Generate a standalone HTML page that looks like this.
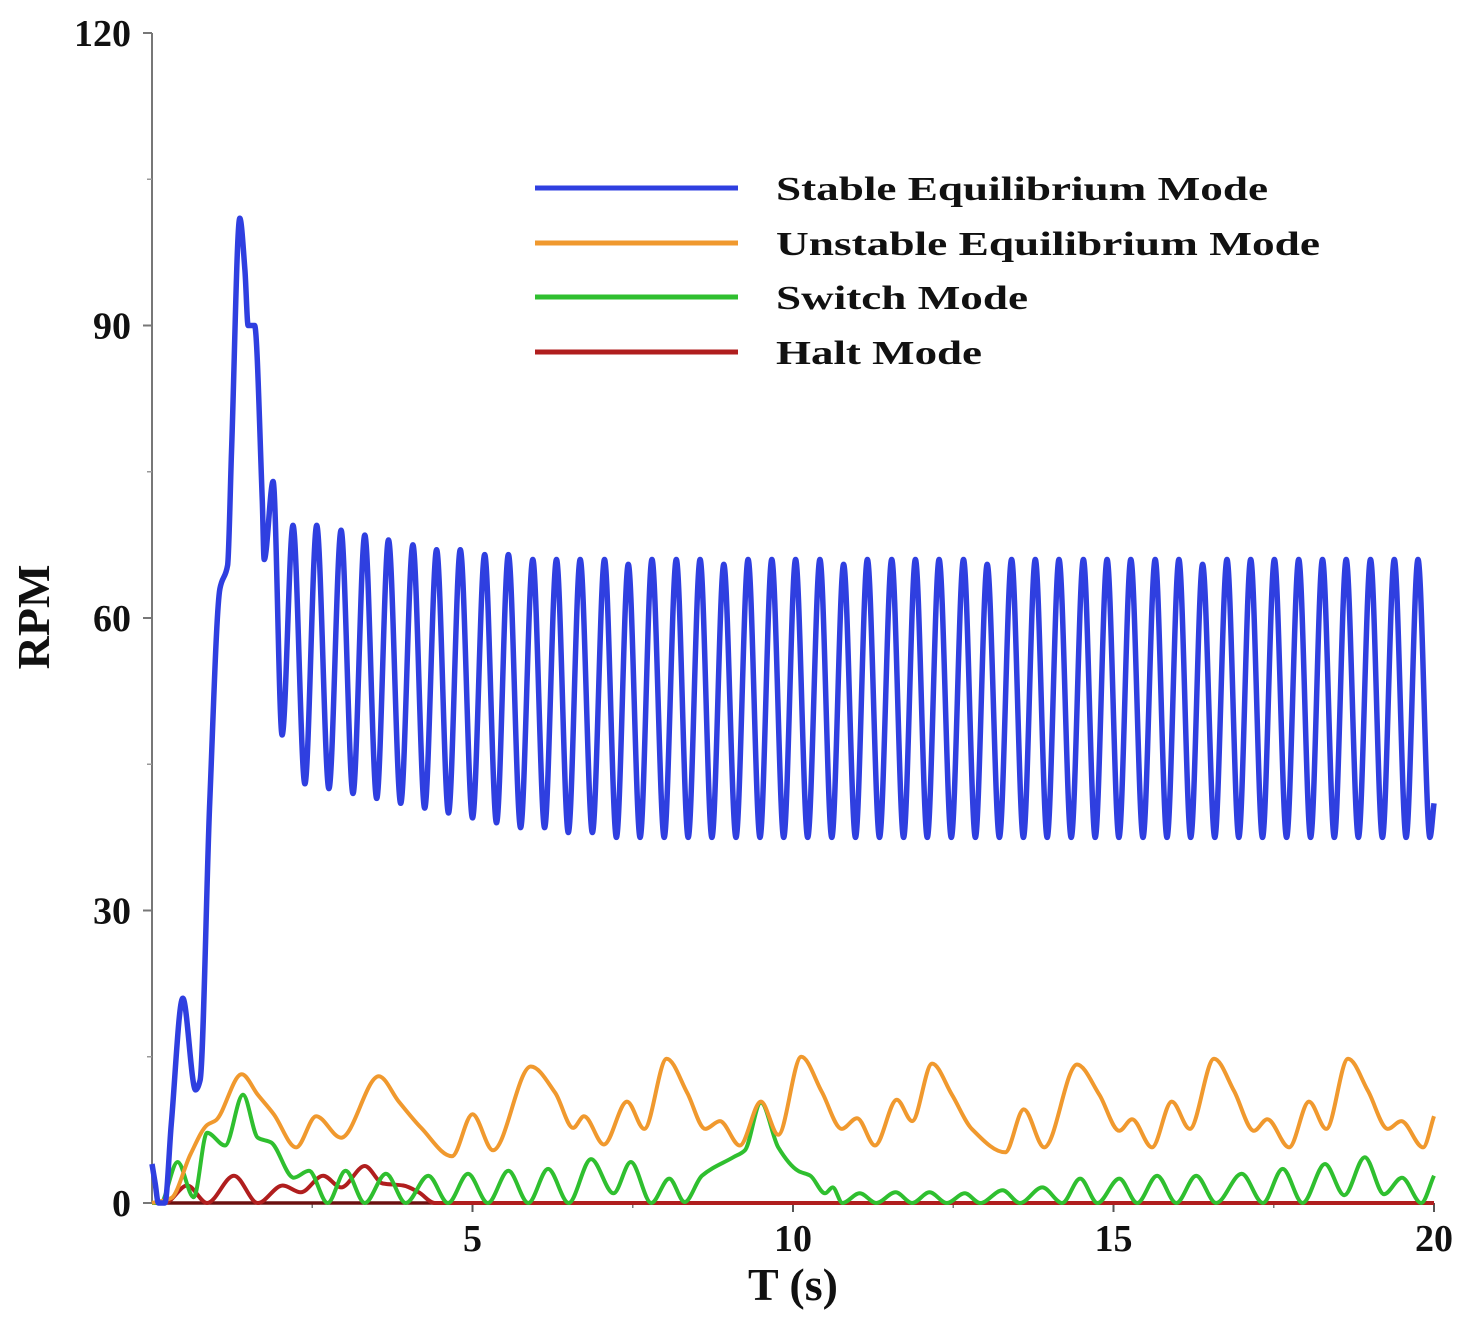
<!DOCTYPE html>
<html>
<head>
<meta charset="utf-8">
<style>
html,body{margin:0;padding:0;background:#fff;}
svg{display:block;}
text{font-family:"Liberation Serif",serif;font-weight:bold;fill:#111;}
</style>
</head>
<body>
<svg id="chart" width="1473" height="1323" viewBox="0 0 1473 1323" xmlns="http://www.w3.org/2000/svg">
  <g id="axes"></g>
  <g id="series"></g>
  <g id="legend"></g>
</svg>
<script>
// ---- data ----
const xTicks = [5, 10, 15, 20];
const xTickLabels = ["5", "10", "15", "20"];
const yTicks = [0, 30, 60, 90, 120];
const yTickLabels = ["0", "30", "60", "90", "120"];
const yMinorTicks = [15, 45, 75, 105];
const xMinorTicks = [2.5, 7.5, 12.5, 17.5];

const seriesNames = ["Stable Equilibrium Mode", "Unstable Equilibrium Mode", "Switch Mode", "Halt Mode"];

const stableStartT = [0, 0.05, 0.1, 0.2, 0.3, 0.48, 0.68, 0.75, 0.9, 1.06, 1.18, 1.24, 1.37, 1.45, 1.5, 1.6, 1.72, 1.75, 1.89, 2.03];
const stableStartV = [4, 2, 0, 0, 8, 21, 11.6, 12.6, 41, 63, 65.4, 77, 101, 95.7, 90, 90, 72, 66, 74, 48];
const stablePeakT = [2.20,2.57,2.95,3.32,3.69,4.07,4.44,4.81,5.19,5.56,5.94,6.31,6.68,7.06,7.43,7.80,8.18,8.55,8.92,9.30,9.67,10.04,10.42,10.79,11.16,11.54,11.91,12.28,12.66,13.03,13.41,13.78,14.15,14.53,14.90,15.27,15.65,16.02,16.39,16.77,17.14,17.51,17.89,18.26,18.63,19.01,19.38,19.75];
const stablePeakV = [69.5,69.5,69,68.5,68,67.5,67,67,66.5,66.5,66,66,66,66,65.5,66,66,66,65.5,66,66,66,66,65.5,66,66,66,66,66,65.5,66,66,66,66,66,66,66,66,65.5,66,66,66,66,66,66,66,66,66];
const stableTroughV = [43,42.5,42,41.5,41,40.5,40,39.5,39,38.5,38.5,38,38,37.5,37.5,37.5,37.5,37.5,37.5,37.5,37.5,37.5,37.5,37.5,37.5,37.5,37.5,37.5,37.5,37.5,37.5,37.5,37.5,37.5,37.5,37.5,37.5,37.5,37.5,37.5,37.5,37.5,37.5,37.5,37.5,37.5,37.5,37.5];
const stableEndT = [20];
const stableEndV = [41];

const unstableT = [0,0.3,0.6,0.86,1.0,1.4,1.65,1.9,2.25,2.56,2.95,3.54,3.85,4.2,4.68,5.0,5.32,5.91,6.29,6.57,6.74,7.05,7.41,7.68,8.03,8.35,8.63,8.86,9.17,9.5,9.77,10.13,10.45,10.76,11.0,11.28,11.62,11.86,12.17,12.48,12.79,13.31,13.6,13.92,14.43,14.78,15.09,15.29,15.6,15.91,16.19,16.57,16.88,17.19,17.4,17.74,18.05,18.32,18.66,18.97,19.28,19.49,19.83,20];
const unstableV = [0,0.5,5,8,8.5,13.2,11.1,9.1,5.7,8.9,6.7,13,10.4,7.7,4.8,9.1,5.4,14,11.3,7.7,8.9,6,10.4,7.6,14.8,11.3,7.6,8.4,5.9,10.4,7,15,11.4,7.6,8.7,5.9,10.6,8.4,14.3,11.1,7.6,5.2,9.6,5.7,14.2,11.1,7.4,8.6,5.7,10.4,7.6,14.8,11.5,7.4,8.6,5.7,10.4,7.6,14.8,11.5,7.6,8.4,5.7,8.9];

const switchT = [0,0.13,0.4,0.65,0.86,1.14,1.42,1.65,1.86,2.21,2.45,2.74,3.02,3.32,3.65,3.96,4.31,4.62,4.93,5.24,5.56,5.87,6.18,6.5,6.85,7.2,7.47,7.79,8.07,8.31,8.58,9.07,9.25,9.5,9.77,10.08,10.27,10.5,10.62,10.77,11.04,11.3,11.6,11.86,12.13,12.4,12.68,12.92,13.27,13.54,13.89,14.2,14.48,14.75,15.09,15.37,15.68,15.98,16.29,16.6,17.0,17.33,17.64,17.95,18.3,18.6,18.92,19.22,19.5,19.8,20];
const switchV = [0,0,4.2,0.6,7.2,5.9,11.1,6.7,6.2,2.6,3.3,0,3.3,0,3,0,2.8,0,3,0,3.3,0,3.5,0,4.5,1,4.2,0,2.5,0.1,2.8,4.7,5.4,10.3,5.7,3.3,2.8,1,1.6,0,1,0,1.1,0,1.1,0,1,0,1.3,0,1.6,0,2.5,0,2.5,0,2.8,0,2.8,0,3,0,3.5,0,4,0.8,4.7,0.9,2.6,0,2.8];

const haltT = [0,0.2,0.55,0.86,1.28,1.65,2.04,2.32,2.67,2.95,3.32,3.6,3.92,4.16,4.41,20];
const haltV = [0,0,1.8,0,2.8,0,1.8,1.1,2.8,1.6,3.8,2,1.8,1.1,0,0];

// ---- scales ----
const X0 = 152, X1 = 1434, Y0 = 1203, Y1 = 33;
function xs(t){ return X0 + (t/20)*(X1-X0); }
function ys(v){ return Y0 - (v/120)*(Y0-Y1); }

const NS = "http://www.w3.org/2000/svg";
function mk(tag, attrs, parent){
  const el = document.createElementNS(NS, tag);
  for (const k in attrs) el.setAttribute(k, attrs[k]);
  parent.appendChild(el);
  return el;
}

function monoPath(T, V){
  const px = T.map(xs), py = V.map(ys), n = px.length;
  const d = [], m = new Array(n).fill(0);
  for (let i=0;i<n-1;i++) d.push((py[i+1]-py[i])/((px[i+1]-px[i])||1e-6));
  m[0]=d[0]; m[n-1]=d[n-2];
  for (let i=1;i<n-1;i++){
    if (d[i-1]*d[i] <= 0) m[i]=0;
    else { m[i] = 2/(1/d[i-1]+1/d[i]); }
  }
  let s = "M"+px[0].toFixed(1)+","+py[0].toFixed(1);
  for (let i=0;i<n-1;i++){
    const h = px[i+1]-px[i];
    s += " C"+(px[i]+h/3).toFixed(1)+","+(py[i]+m[i]*h/3).toFixed(1)+" "+(px[i+1]-h/3).toFixed(1)+","+(py[i+1]-m[i+1]*h/3).toFixed(1)+" "+px[i+1].toFixed(1)+","+py[i+1].toFixed(1);
  }
  return s;
}

// ---- axes ----
const axes = document.getElementById("axes");
const yAxis = mk("line",{x1:X0,y1:Y1,x2:X0,y2:Y0,stroke:"#777","stroke-width":2},axes);


yTicks.forEach((v,i)=>{
  const tk = mk("line",{x1:X0-9,y1:ys(v),x2:X0,y2:ys(v),stroke:"#777","stroke-width":2},axes);
  
  
  const lb = mk("text",{x:X0-21,y:ys(v)+13,"text-anchor":"end","font-size":38},axes);
  lb.textContent = yTickLabels[i];
  
  
});
yMinorTicks.forEach(v=>{
  const tk = mk("line",{x1:X0-5,y1:ys(v),x2:X0,y2:ys(v),stroke:"#999","stroke-width":1.5},axes);
  
  
});
xTicks.forEach((t,i)=>{
  const tk = mk("line",{x1:xs(t),y1:Y0,x2:xs(t),y2:Y0+9,stroke:"#555","stroke-width":2},axes);
  
  
  const lb = mk("text",{x:xs(t),y:Y0+48,"text-anchor":"middle","font-size":38},axes);
  lb.textContent = xTickLabels[i];
  
  
});
xMinorTicks.forEach(t=>{
  const tk = mk("line",{x1:xs(t),y1:Y0,x2:xs(t),y2:Y0+5,stroke:"#777","stroke-width":1.5},axes);
  
  
});
const xt = mk("text",{x:793,y:1300,"text-anchor":"middle","font-size":46},axes);
xt.textContent = "T (s)";


const yt = mk("text",{x:0,y:0,"text-anchor":"middle","font-size":46,transform:"translate(49,617) rotate(-90)"},axes);
yt.textContent = "RPM";



// ---- series ----
const series = document.getElementById("series");
const stT = stableStartT.slice(), stV = stableStartV.slice();
for (let k=0;k<stablePeakT.length;k++){
  stT.push(stablePeakT[k]); stV.push(stablePeakV[k]);
  const nextT = k+1<stablePeakT.length ? stablePeakT[k+1] : stablePeakT[k]+0.3735;
  stT.push((stablePeakT[k]+nextT)/2); stV.push(stableTroughV[k]);
}
stableEndT.forEach((t,i)=>{ stT.push(t); stV.push(stableEndV[i]); });

const haltLine = mk("path",{d:monoPath(haltT,haltV),fill:"none",stroke:"#b01e1e","stroke-width":4},series);


const switchLine = mk("path",{d:monoPath(switchT,switchV),fill:"none",stroke:"#2fbf2f","stroke-width":4},series);


const unstLine = mk("path",{d:monoPath(unstableT,unstableV),fill:"none",stroke:"#f0992e","stroke-width":4},series);


const stLine = mk("path",{d:monoPath(stT,stV),fill:"none",stroke:"#2f3fe0","stroke-width":5.5},series);


const base = mk("line",{x1:X0,y1:Y0,x2:X1,y2:Y0,stroke:"#6b1010","stroke-width":3.5},axes);



// ---- legend ----
const legend = document.getElementById("legend");
const legColors = ["#2f3fe0","#f0992e","#2fbf2f","#b01e1e"];
const legWidths = [492, 544, 252, 206];
const legY = [188, 243, 297, 352];
seriesNames.forEach((nm,i)=>{
  const ln = mk("line",{x1:535,y1:legY[i],x2:738,y2:legY[i],stroke:legColors[i],"stroke-width":5},legend);
  
  
  const tx = mk("text",{x:776,y:legY[i]+12,"font-size":34,textLength:legWidths[i],lengthAdjust:"spacingAndGlyphs"},legend);
  tx.textContent = nm;
  
  
});
</script>
</body>
</html>
